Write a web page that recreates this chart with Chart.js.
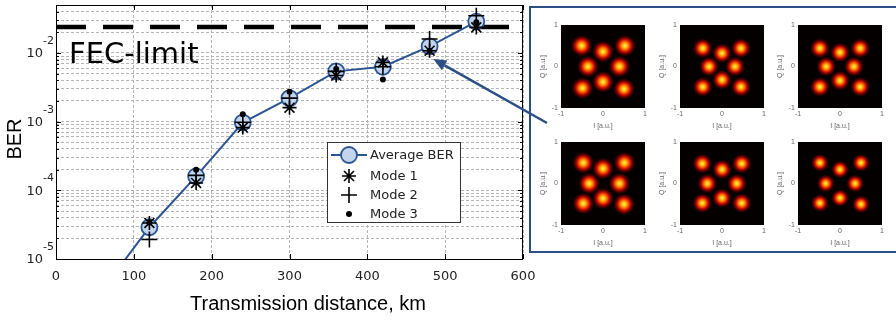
<!DOCTYPE html>
<html>
<head>
<meta charset="utf-8">
<script src="https://cdn.jsdelivr.net/npm/chart.js@4.4.1/dist/chart.umd.min.js"></script>
<style>
  body { margin: 0; background: #fff; }
  #wrap { position: relative; width: 896px; height: 323px; overflow: hidden; }
  #principal { position: absolute; left: 0; top: 0; }
  #moldura { position: absolute; left: 529px; top: 6px; width: 400px; height: 247px;
             box-sizing: border-box; border: 2px solid #2b4f86; }
  .iq { position: absolute; }
</style>
</head>
<body>
<div id="wrap">
  <canvas id="principal" width="896" height="323"></canvas>
  <div id="moldura"></div>
</div>
<script>
(function () {
  // BER medida x distância
  var distancias = [60, 120, 180, 240, 300, 360, 420, 480, 540];
  var berMedia   = [3.6e-6, 2.9e-5, 1.6e-4, 9.7e-4, 2.2e-3, 5.4e-3, 6.3e-3, 1.25e-2, 2.87e-2];
  var distModos  = [120, 180, 240, 300, 360, 420, 480, 540];
  var berModo1   = [3.35e-5, 1.28e-4, 8.2e-4, 1.6e-3, 4.7e-3, 7.3e-3, 1.08e-2, 2.36e-2];
  var berModo2   = [1.92e-5, 1.65e-4, 9.8e-4, 2.2e-3, 5.4e-3, 6.3e-3, 1.6e-2, 3.48e-2];
  var berModo3   = [3.4e-5, 2.0e-4, 1.28e-3, 2.73e-3, 5.85e-3, 4.1e-3, 1.08e-2, 2.8e-2];
  var limiteFEC  = 0.024;

  var ticksX   = [0, 100, 200, 300, 400, 500, 600];
  var decadasY = [-5, -4, -3, -2];
  var yMin = 1e-5, yMax = 0.05;

  // constelações recebidas (I, Q)
  var painel1 = [[-0.51, 0.5], [0, 0.36], [0.52, 0.5], [-0.36, 0], [0.39, 0], [-0.49, -0.52], [0, -0.37], [0.5, -0.54]];
  var painel2 = [[-0.46, 0.44], [0, 0.32], [0.45, 0.44], [-0.31, 0], [0.31, 0], [-0.46, -0.49], [0, -0.32], [0.45, -0.49]];
  var painel3 = [[-0.48, 0.44], [0, 0.34], [0.48, 0.44], [-0.33, 0], [0.33, 0], [-0.48, -0.49], [0, -0.34], [0.48, -0.49]];
  var painel4 = [[-0.47, 0.5], [0, 0.36], [0.51, 0.5], [-0.33, 0], [0.39, 0], [-0.47, -0.48], [0, -0.36], [0.5, -0.5]];
  var painel5 = [[-0.47, 0.48], [0, 0.34], [0.47, 0.48], [-0.35, 0], [0.35, 0], [-0.47, -0.47], [0, -0.35], [0.47, -0.47]];
  var painel6 = [[-0.48, 0.5], [0, 0.34], [0.5, 0.5], [-0.34, 0], [0.36, 0], [-0.48, -0.47], [0, -0.35], [0.5, -0.5]];

  var AZUL = '#2b5592';

  function pares(xs, ys) { return xs.map(function (x, i) { return { x: x, y: ys[i] }; }); }

  var ticksLogY = [];
  decadasY.forEach(function (e) {
    for (var m = 1; m <= 9; m++) {
      var v = m * Math.pow(10, e);
      if (v <= yMax * 1.0001) ticksLogY.push(v);
    }
  });

  var conjuntos = [
    { label: 'Mode 1', data: pares(distModos, berModo1), showLine: false, pointStyle: 'star',
      pointRadius: 7, pointBorderWidth: 1.6, pointBorderColor: '#000', pointBackgroundColor: '#000', order: 1 },
    { label: 'Mode 2', data: pares(distModos, berModo2), showLine: false, pointStyle: 'cross',
      pointRadius: 8, pointBorderWidth: 1.6, pointBorderColor: '#000', pointBackgroundColor: '#000', order: 2 },
    { label: 'Mode 3', data: pares(distModos, berModo3), showLine: false, pointStyle: 'circle',
      pointRadius: 3, pointBorderWidth: 0, pointBorderColor: '#000', pointBackgroundColor: '#000', order: 3 },
    { label: 'Average BER', data: pares(distancias, berMedia), borderColor: AZUL, borderWidth: 2,
      pointStyle: 'circle', pointRadius: 8, pointBorderWidth: 1.8, pointBorderColor: AZUL,
      pointBackgroundColor: '#c3d5ee', order: 5, clip: { left: 0, top: 12, right: 0, bottom: 0 } },
    { label: 'FEC', data: [{ x: 0, y: limiteFEC }, { x: 600, y: limiteFEC }], borderColor: '#000',
      borderWidth: 4.5, borderDash: [30, 17], borderDashOffset: 0, pointRadius: 0, order: 6, clip: 0 }
  ];

  var detalhes = {
    id: 'detalhes',
    afterDraw: function (chart) {
      var ctx = chart.ctx, a = chart.chartArea;
      var sx = chart.scales.x, sy = chart.scales.y;
      ctx.save();

      // caixa dos eixos e marcas internas
      ctx.strokeStyle = '#000'; ctx.lineWidth = 1;
      ctx.strokeRect(a.left + 0.5, a.top + 0.5, a.right - a.left - 1, a.bottom - a.top);
      ctx.beginPath();
      ticksX.forEach(function (v) {
        var px = Math.round(sx.getPixelForValue(v)) + 0.5;
        ctx.moveTo(px, a.bottom); ctx.lineTo(px, a.bottom - 5);
        ctx.moveTo(px, a.top); ctx.lineTo(px, a.top + 5);
      });
      ticksLogY.forEach(function (v) {
        var py = Math.round(sy.getPixelForValue(v)) + 0.5;
        var dec = Math.abs(Math.log10(v) - Math.round(Math.log10(v))) < 1e-6;
        var l = dec ? 5 : 3;
        ctx.moveTo(a.left, py); ctx.lineTo(a.left + l, py);
        ctx.moveTo(a.right, py); ctx.lineTo(a.right - l, py);
      });
      ctx.stroke();

      // rótulos 10^n do eixo y
      ctx.fillStyle = '#222';
      decadasY.forEach(function (e) {
        var py = sy.getPixelForValue(Math.pow(10, e));
        ctx.font = '13px "DejaVu Sans"';
        ctx.textAlign = 'right'; ctx.textBaseline = 'middle';
        ctx.fillText('10', 43, py + 1);
        ctx.font = '11px "DejaVu Sans"';
        ctx.textAlign = 'left';
        ctx.fillText('-' + Math.abs(e), 43, py - 12);
      });

      // títulos
      ctx.fillStyle = '#000';
      ctx.font = '20px "Liberation Sans"';
      ctx.textAlign = 'center'; ctx.textBaseline = 'middle';
      ctx.fillText('Transmission distance, km', 308, 304);
      ctx.save();
      ctx.translate(15, 139); ctx.rotate(-Math.PI / 2);
      ctx.fillText('BER', 0, 0);
      ctx.restore();
      ctx.font = '29px "DejaVu Sans"';
      ctx.textAlign = 'left'; ctx.textBaseline = 'alphabetic';
      ctx.fillText('FEC-limit', 69, 63);

      // legenda
      var lx = 327.5, ly = 142.5, lw = 133, lh = 80;
      ctx.fillStyle = '#fff'; ctx.fillRect(lx, ly, lw, lh);
      ctx.strokeStyle = '#333'; ctx.lineWidth = 1; ctx.strokeRect(lx, ly, lw, lh);
      var itens = [3, 0, 1, 2], linhas = [155, 176, 195, 214];
      itens.forEach(function (idx, k) {
        var ds = chart.data.datasets[idx], y = linhas[k], cx = 349;
        if (idx === 3) {
          ctx.strokeStyle = ds.borderColor; ctx.lineWidth = ds.borderWidth;
          ctx.beginPath(); ctx.moveTo(331, y); ctx.lineTo(367, y); ctx.stroke();
        }
        ctx.fillStyle = ds.pointBackgroundColor; ctx.strokeStyle = ds.pointBorderColor;
        ctx.lineWidth = ds.pointBorderWidth;
        Chart.helpers.drawPoint(ctx, { pointStyle: ds.pointStyle, radius: ds.pointRadius,
          borderWidth: ds.pointBorderWidth, rotation: 0 }, cx, y);
        ctx.fillStyle = '#222'; ctx.font = '13px "DejaVu Sans"';
        ctx.textAlign = 'left'; ctx.textBaseline = 'middle';
        ctx.fillText(ds.label, 370, y + 1);
      });

      // seta até o ponto de 480 km
      var alvo = chart.getDatasetMeta(3).data[7];
      var tx = alvo.x + 3.7, ty = alvo.y + 12.7, ox = 547, oy = 123;
      var ang = Math.atan2(ty - oy, tx - ox), comp = 13, larg = 5.5;
      var bx = tx - comp * Math.cos(ang), by = ty - comp * Math.sin(ang);
      ctx.strokeStyle = '#2b4f86'; ctx.fillStyle = '#2b4f86'; ctx.lineWidth = 2.5;
      ctx.beginPath(); ctx.moveTo(ox, oy); ctx.lineTo(bx, by); ctx.stroke();
      ctx.beginPath();
      ctx.moveTo(tx, ty);
      ctx.lineTo(bx + larg * Math.sin(ang), by - larg * Math.cos(ang));
      ctx.lineTo(bx - larg * Math.sin(ang), by + larg * Math.cos(ang));
      ctx.closePath(); ctx.fill();
      ctx.restore();
    }
  };

  new Chart(document.getElementById('principal'), {
    type: 'line',
    data: { datasets: conjuntos },
    options: {
      responsive: false, animation: false,
      layout: { autoPadding: false, padding: { top: 5, right: 373, bottom: 0, left: 0 } },
      plugins: { legend: { display: false }, tooltip: { enabled: false } },
      scales: {
        x: {
          type: 'linear', min: 0, max: 600,
          afterBuildTicks: function (s) { s.ticks = ticksX.map(function (v) { return { value: v }; }); },
          afterFit: function (s) { s.height = 64; },
          grid: { color: '#b5b5b5', lineWidth: 1, drawTicks: false },
          border: { display: false, dash: [3, 2] },
          ticks: { padding: 10, color: '#222', font: { family: 'DejaVu Sans', size: 13 } }
        },
        y: {
          type: 'logarithmic', min: yMin, max: yMax,
          afterBuildTicks: function (s) { s.ticks = ticksLogY.map(function (v) { return { value: v }; }); },
          afterFit: function (s) { s.width = 56; },
          grid: { color: '#b5b5b5', lineWidth: 1, drawTicks: false },
          border: { display: false, dash: [3, 2] },
          ticks: { display: false }
        }
      }
    },
    plugins: [detalhes]
  });

  // mancha gaussiana (mapa "hot") usada como marcador
  function mancha(raio) {
    var c = document.createElement('canvas');
    c.width = c.height = raio * 2;
    var g = c.getContext('2d');
    var grad = g.createRadialGradient(raio, raio, 0, raio, raio, raio);
    grad.addColorStop(0, '#fff07a');
    grad.addColorStop(0.15, '#ffd21c');
    grad.addColorStop(0.35, '#ff7400');
    grad.addColorStop(0.55, '#d41000');
    grad.addColorStop(0.75, '#5a0000');
    grad.addColorStop(0.92, '#150000');
    grad.addColorStop(1, 'rgba(0,0,0,0)');
    g.fillStyle = grad;
    g.fillRect(0, 0, c.width, c.height);
    return c;
  }

  var fundoPreto = {
    id: 'fundoPreto',
    beforeDatasetsDraw: function (chart) {
      var a = chart.chartArea, ctx = chart.ctx;
      ctx.save(); ctx.fillStyle = '#050000';
      ctx.fillRect(a.left, a.top, a.right - a.left, a.bottom - a.top);
      ctx.restore();
    }
  };

  function constelacao(pontos, esquerda, topo, raio) {
    var cv = document.createElement('canvas');
    cv.className = 'iq';
    cv.width = 114; cv.height = 113;
    cv.style.left = (esquerda - 22) + 'px';
    cv.style.top = (topo - 8) + 'px';
    document.getElementById('wrap').appendChild(cv);
    var fonte = { family: 'Liberation Sans', size: 7 };
    new Chart(cv, {
      type: 'scatter',
      data: { datasets: [{ data: pontos.map(function (p) { return { x: p[0], y: p[1] }; }),
        pointStyle: mancha(raio), pointRadius: raio }] },
      options: {
        responsive: false, animation: false,
        layout: { autoPadding: false, padding: { top: 8, right: 8, left: 0, bottom: 0 } },
        plugins: { legend: { display: false }, tooltip: { enabled: false } },
        scales: {
          x: { min: -1, max: 1, afterFit: function (s) { s.height = 22; },
            grid: { display: false, drawTicks: false }, border: { display: false },
            ticks: { stepSize: 1, padding: 2, color: '#666', font: fonte, maxRotation: 0 },
            title: { display: true, text: 'I [a.u.]', color: '#666', font: fonte, padding: { top: 1, bottom: 0 } } },
          y: { min: -1, max: 1, afterFit: function (s) { s.width = 22; },
            grid: { display: false, drawTicks: false }, border: { display: false },
            ticks: { stepSize: 1, padding: 3, color: '#666', font: fonte },
            title: { display: true, text: 'Q [a.u.]', color: '#666', font: fonte, padding: { top: 0, bottom: 2 } } }
        }
      },
      plugins: [fundoPreto]
    });
  }

  var colunas = [561, 680, 798], linhasPainel = [25, 142];
  constelacao(painel1, colunas[0], linhasPainel[0], 11);
  constelacao(painel2, colunas[1], linhasPainel[0], 10);
  constelacao(painel3, colunas[2], linhasPainel[0], 10);
  constelacao(painel4, colunas[0], linhasPainel[1], 11);
  constelacao(painel5, colunas[1], linhasPainel[1], 10);
  constelacao(painel6, colunas[2], linhasPainel[1], 9);
})();
</script>
</body>
</html>
